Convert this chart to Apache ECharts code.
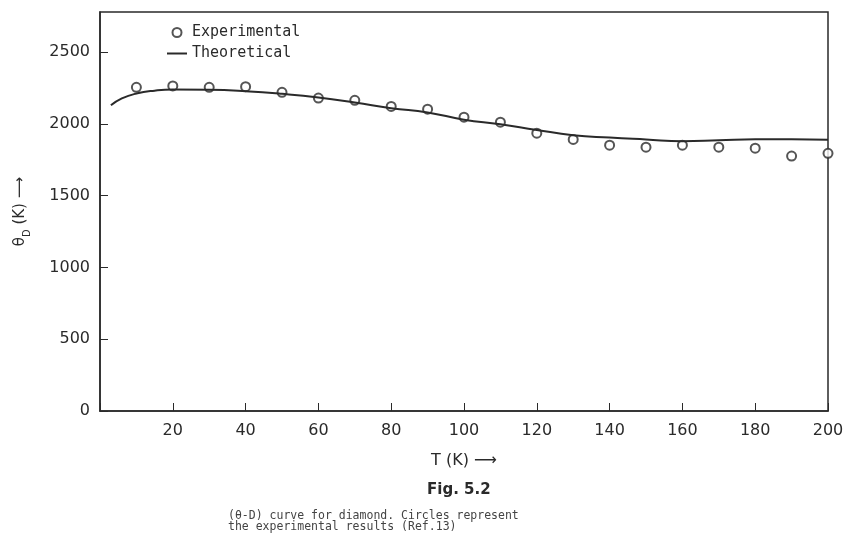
<!DOCTYPE html>
<html><head><meta charset="utf-8">
<script src="https://cdn.jsdelivr.net/npm/echarts@6/dist/echarts.min.js"></script>
<style>html,body{margin:0;padding:0;background:#fff}#c{width:848px;height:546px}</style>
</head><body><div id="c"></div>
<script>
const expT = [10,20,30,40,50,60,70,80,90,100,110,120,130,140,150,160,170,180,190,200];
const expTheta = [2255,2265,2255,2260,2220,2180,2165,2122,2103,2047,2012,1936,1892,1852,1838,1852,1838,1831,1776,1795];
const theoT = [3,6,10,15,20,30,40,50,60,70,80,90,100,110,120,130,140,150,160,170,180,190,200];
const theoTheta = [2130,2178,2212,2232,2240,2238,2228,2210,2185,2150,2110,2080,2030,1998,1958,1922,1905,1892,1880,1886,1893,1893,1890];
const xTicks = [20,40,60,80,100,120,140,160,180,200];
const yTicks = [0,500,1000,1500,2000,2500];

const ink = '#2a2a2a';
const chart = echarts.init(document.getElementById('c'));
chart.setOption({
  backgroundColor: '#ffffff',
  animation: false,
  textStyle: {fontFamily: 'DejaVu Sans', color: ink},
  grid: {left: 100, right: 20, top: 12, bottom: 135, show: true, borderColor: ink, borderWidth: 1.5},
  legend: {
    orient: 'vertical', left: 162, top: 20, itemGap: 6, itemWidth: 20, itemHeight: 9,
    textStyle: {fontFamily: 'DejaVu Sans Mono', fontSize: 15, color: ink},
    data: [{name: 'Experimental', icon: 'emptyCircle'},
           {name: 'Theoretical', icon: 'path://M0,4 L20,4 L20,6 L0,6 Z'}]
  },
  xAxis: {
    type: 'value', min: 0, max: 200, interval: 20,
    name: 'T (K) ⟶', nameLocation: 'middle', nameGap: 42,
    nameTextStyle: {fontSize: 16, color: ink},
    axisLine: {lineStyle: {color: ink, width: 1.5}},
    axisTick: {inside: true, length: 8, lineStyle: {color: ink}},
    axisLabel: {fontSize: 16, color: ink, margin: 12,
      formatter: v => xTicks.includes(v) ? String(v) : ''},
    splitLine: {show: false}
  },
  yAxis: {
    type: 'value', min: 0, max: 2780, interval: 500,
    name: 'θ{s|D} (K) ⟶', nameLocation: 'middle', nameGap: 72,
    nameTextStyle: {fontSize: 15, color: ink, rich: {s: {fontSize: 10, verticalAlign: 'bottom', padding: [0,0,-4,0]}}},
    axisLine: {lineStyle: {color: ink, width: 1.5}},
    axisTick: {inside: true, length: 8, lineStyle: {color: ink}},
    axisLabel: {fontSize: 16, color: ink, margin: 10, showMaxLabel: false,
      formatter: v => yTicks.includes(v) ? String(v) : ''},
    splitLine: {show: false}
  },
  series: [
    {name: 'Experimental', type: 'scatter', symbol: 'emptyCircle', symbolSize: 9,
      itemStyle: {color: ink, borderColor: ink, borderWidth: 1.8},
      data: expT.map((t, i) => [t, expTheta[i]])},
    {name: 'Theoretical', type: 'line', smooth: true, symbol: 'none',
      lineStyle: {color: ink, width: 2}, itemStyle: {color: ink},
      data: theoT.map((t, i) => [t, theoTheta[i]])}
  ],
  graphic: [
    {type: 'text', left: 427, top: 483, style: {text: 'Fig. 5.2', font: 'bold 15px "DejaVu Sans"', fill: ink}},
    {type: 'text', left: 228, top: 510, style: {text: '(θ-D) curve for diamond. Circles represent\nthe experimental results (Ref.13)', font: '11.5px "DejaVu Sans Mono"', fill: '#444', lineHeight: 11}}
  ]
});
</script></body></html>
